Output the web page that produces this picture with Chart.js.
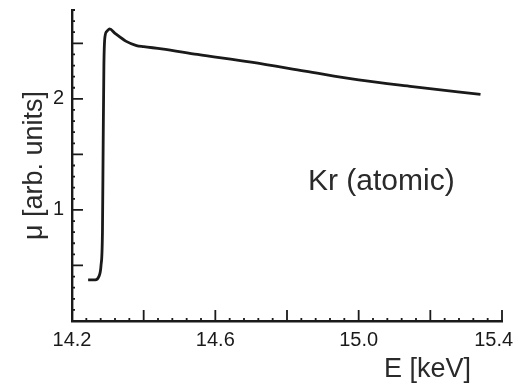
<!DOCTYPE html>
<html>
<head>
<meta charset="utf-8">
<script src="https://cdn.jsdelivr.net/npm/chart.js@4/dist/chart.umd.min.js"></script>
<style>
  html, body { margin: 0; padding: 0; background: #fff; }
  #wrap { width: 517px; height: 386px; }
</style>
</head>
<body>
<div id="wrap"><canvas id="myChart" width="517" height="386"></canvas></div>
<script>
// Kr atomic absorption edge
const energy = [14.245, 14.265, 14.275, 14.281, 14.285, 14.287, 14.289, 14.292, 14.298, 14.305, 14.32, 14.35, 14.38, 14.40, 14.45, 14.55, 14.70, 14.85, 15.00, 15.15, 15.34];
const mu =     [0.37,   0.37,   0.40,   0.50,   0.80,   1.60,   2.30,   2.56,   2.61,   2.63,   2.59,  2.52,  2.48,  2.47,  2.45,  2.40,  2.33,  2.25,  2.17,  2.11,  2.04];
const xTickLabels = ["14.2", "14.6", "15.0", "15.4"];
const yTickLabels = ["1", "2"];

const ink = "#1a1a1a";
const tickFont = { family: "'Liberation Sans', Arial, sans-serif", size: 20 };

// ticks drawn inward, like the original plot
const inwardTicks = {
  id: "inwardTicks",
  afterDraw(chart) {
    const c = chart.ctx;
    const xs = chart.scales.x, ys = chart.scales.y;
    const area = chart.chartArea;
    c.save();
    c.strokeStyle = ink;
    c.lineWidth = 1.8;
    c.beginPath();
    for (let i = 0; i <= 30; i++) {
      const px = xs.getPixelForValue(14.2 + i * 0.04);
      const major = i % 5 === 0;
      c.moveTo(px, area.bottom + (major ? 0 : 1));
      c.lineTo(px, area.bottom - (major ? 11 : 3));
    }
    for (let i = 0; i <= 28; i++) {
      const py = ys.getPixelForValue(i * 0.1);
      const major = i % 5 === 0;
      c.moveTo(area.left - (major ? 0 : 1), py);
      c.lineTo(area.left + (major ? 11 : 3), py);
    }
    c.stroke();

    c.fillStyle = "#2a2a2a";
    c.textAlign = "left";
    c.textBaseline = "alphabetic";
    c.font = "30px 'Liberation Sans', Arial, sans-serif";
    c.fillText("Kr (atomic)", 308, 190);
    c.font = "27px 'Liberation Sans', Arial, sans-serif";
    c.fillText("E [keV]", 384, 377);
    c.restore();
  }
};

new Chart(document.getElementById("myChart"), {
  type: "line",
  data: {
    datasets: [{
      data: energy.map((e, i) => ({ x: e, y: mu[i] })),
      borderColor: ink,
      borderWidth: 2.8,
      pointRadius: 0,
      fill: false,
      cubicInterpolationMode: "monotone"
    }]
  },
  plugins: [inwardTicks],
  options: {
    responsive: false,
    animation: false,
    layout: { padding: { top: 10, right: 15, left: 0, bottom: 0 } },
    plugins: { legend: { display: false }, tooltip: { enabled: false } },
    scales: {
      x: {
        type: "linear",
        min: 14.2,
        max: 15.4,
        grid: { display: false },
        border: { display: true, color: ink, width: 2.4 },
        ticks: {
          stepSize: 0.4,
          color: ink,
          font: tickFont,
          padding: -1,
          maxRotation: 0,
          callback: (v) => {
            const s = v.toFixed(1);
            if (!xTickLabels.includes(s)) return "";
            // last label sits a little left of its tick in the original
            return s === "15.4" ? s + "\u00a0\u00a0\u00a0" : s;
          }
        },
        afterFit: (s) => { s.height = 65; s.paddingLeft = 0; s.paddingRight = 0; }
      },
      y: {
        min: 0,
        max: 2.8,
        grid: { display: false },
        border: { display: true, color: ink, width: 2.4 },
        ticks: {
          stepSize: 0.5,
          color: ink,
          font: tickFont,
          padding: 0,
          callback: (v) => yTickLabels.includes(String(v)) ? String(v) : ""
        },
        title: {
          display: true,
          text: "μ [arb. units]",
          color: "#2a2a2a",
          font: { family: "'Liberation Sans', Arial, sans-serif", size: 27 },
          padding: { top: 18, bottom: 0 }
        },
        afterFit: (s) => { s.width = 72; s.paddingTop = 0; s.paddingBottom = 0; }
      }
    }
  }
});
</script>
</body>
</html>
